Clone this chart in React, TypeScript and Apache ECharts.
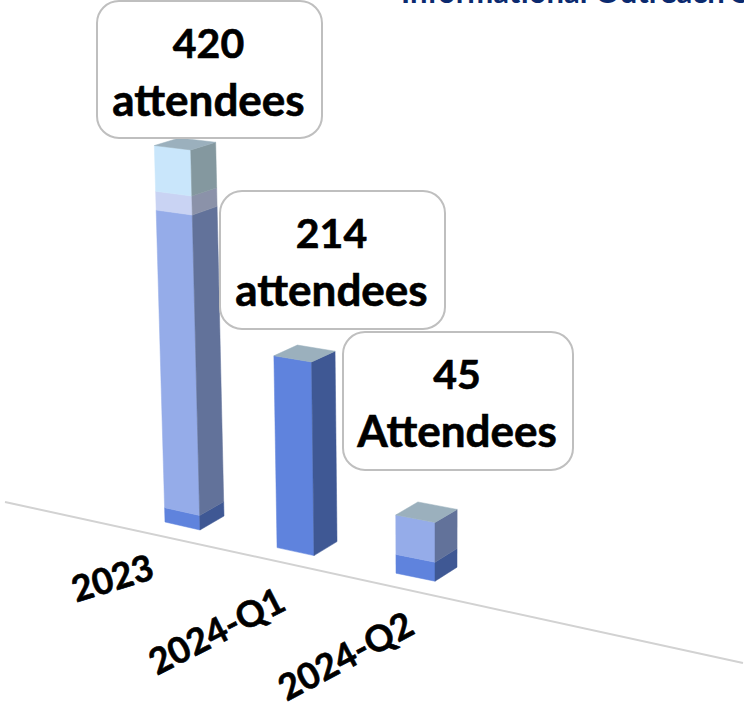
import React, { useEffect, useRef } from "react";
import * as echarts from "echarts";

const categories = ["2023", "2024-Q1", "2024-Q2"];
const baseSegment = [16, 214, 21];
const mainSegment = [332, 0, 44];
const paleSegment = [21, 0, 0];
const topSegment = [51, 0, 0];
const calloutNumbers = ["420", "214", "45"];
const calloutWords = ["attendees", "attendees", "Attendees"];
const clippedTitle = "Informational Outreach S";

const layers = [baseSegment, mainSegment, paleSegment, topSegment];
const FRONT = ["#5f83dd", "#95ace9", "#c9d3f3", "#c9e6fb"];
const SIDE = ["#3f5894", "#62729a", "#8b92a9", "#84989f"];
const CAP = "#9bb0bd";
const FONT = "Lato, 'Noto Sans', sans-serif";

const rows: number[][] = [];
categories.forEach((_, i) => {
  let start = 0;
  const last = layers.reduce((m, l, k) => (l[i] > 0 ? k : m), 0);
  layers.forEach((l, k) => {
    if (l[i] > 0) {
      rows.push([i, start, start + l[i], k, k === last ? 1 : 0]);
      start += l[i];
    }
  });
});

// simple perspective projection of the sloped floor
const SLOPE = 0.218;
const ANCHOR_X = 200;
const VANISH_X = 435;
const CONVERGE = 1.04e-4;
const DEPTH_FADE = 0.0012;
const NUDGE = [0, -3.5, 0];

function project(
  frontX: number,
  frontY: number,
  h: number,
  dx: number,
  dyLevels: number
): number[] {
  const x = frontX + dx;
  const fade = 1 - DEPTH_FADE * h;
  return [x - (VANISH_X - x) * CONVERGE * h, frontY - h - dyLevels * fade];
}

function renderBar(_: any, api: any) {
  const i = api.value(0);
  const start = api.value(1);
  const end = api.value(2);
  const layer = api.value(3);
  const isTop = api.value(4);
  const zero = api.coord([i, 0]);
  const frontX = zero[0] + NUDGE[i];
  const frontY = zero[1] + SLOPE * (zero[0] - ANCHOR_X);
  const h0 = zero[1] - api.coord([i, start])[1];
  const h1 = zero[1] - api.coord([i, end])[1];
  const lw = 35 + (frontX - ANCHOR_X) * 0.017;
  const rw = 24 - (frontX - ANCHOR_X) * 0.0085;
  const p = (h: number, dx: number, dy: number) => project(frontX, frontY, h, dx, dy);
  const poly = (points: number[][], fill: string) => ({
    type: "polygon",
    shape: { points },
    style: { fill, stroke: fill, lineWidth: 0.5 },
  });
  const children: any[] = [
    poly([p(h0, -lw, 8), p(h0, 0, 0), p(h1, 0, 0), p(h1, -lw, 8)], FRONT[layer]),
    poly([p(h0, 0, 0), p(h0, rw, 14), p(h1, rw, 14), p(h1, 0, 0)], SIDE[layer]),
  ];
  if (isTop) {
    children.push(
      poly([p(h1, 0, 0), p(h1, -lw, 8), p(h1, rw - lw, 22), p(h1, rw, 14)], CAP)
    );
  }
  return { type: "group", children };
}

const calloutBoxes = [
  { x: 97, y: 1, w: 225, h: 137 },
  { x: 220, y: 191, w: 225, h: 138 },
  { x: 343, y: 332, w: 230, h: 138 },
];
const axisLabelPlaces = [
  { x: 112, y: 577, deg: 17 },
  { x: 216, y: 630, deg: 27 },
  { x: 345, y: 655, deg: 28 },
];

export default function App() {
  const ref = useRef<HTMLDivElement>(null);
  useEffect(() => {
    document.body.style.margin = "0";
    const chart = echarts.init(ref.current!, null, { renderer: "svg" });
    chart.setOption({
      animation: false,
      backgroundColor: "#ffffff",
      grid: { left: 141.25, width: 352.5, top: 77.5, height: 452.5 },
      xAxis: { type: "category", data: categories, show: false },
      yAxis: { type: "value", min: 0, max: 500, show: false },
      series: [
        {
          type: "custom",
          coordinateSystem: "cartesian2d",
          clip: false,
          data: rows,
          encode: { x: 0, y: 2 },
          renderItem: renderBar,
        },
      ],
      graphic: [
        {
          type: "line",
          z: 50,
          shape: { x1: 5, y1: 502, x2: 743, y2: 663 },
          style: { stroke: "#d2d2d2", lineWidth: 2 },
        },
        {
          type: "text",
          z: 60,
          x: 401,
          y: 6,
          style: {
            text: clippedTitle,
            fill: "#0b2a6f",
            font: `bold 31px ${FONT}`,
            align: "left",
            verticalAlign: "bottom",
          },
        },
        ...calloutBoxes.flatMap((b, i) => [
          {
            type: "rect",
            z: 100,
            shape: { x: b.x, y: b.y, width: b.w, height: b.h, r: 22 },
            style: { fill: "#ffffff", stroke: "#bfbfbf", lineWidth: 2 },
          },
          {
            type: "text",
            z: 101,
            x: b.x + b.w / 2 - 1,
            y: b.y + 41,
            style: {
              text: calloutNumbers[i],
              fill: "#000000",
              stroke: "#000000",
              lineWidth: 0.6,
              font: `bold 41px ${FONT}`,
              align: "center",
              verticalAlign: "middle",
            },
          },
          {
            type: "text",
            z: 101,
            x: b.x + b.w / 2 - 1,
            y: b.y + 98,
            style: {
              text: calloutWords[i],
              fill: "#000000",
              stroke: "#000000",
              lineWidth: 0.6,
              font: `bold 44px ${FONT}`,
              align: "center",
              verticalAlign: "middle",
            },
          },
        ]),
        ...axisLabelPlaces.map((a, i) => ({
          type: "text",
          z: 60,
          x: a.x,
          y: a.y,
          rotation: (a.deg * Math.PI) / 180,
          style: {
            text: categories[i],
            fill: "#000000",
            stroke: "#000000",
            lineWidth: 0.6,
            font: `bold 36px ${FONT}`,
            align: "center",
            verticalAlign: "middle",
          },
        })),
      ],
    });
    return () => chart.dispose();
  }, []);
  return (
    <div
      ref={ref}
      style={{ position: "fixed", left: 0, top: 0, width: 744, height: 702, overflow: "hidden" }}
    />
  );
}
